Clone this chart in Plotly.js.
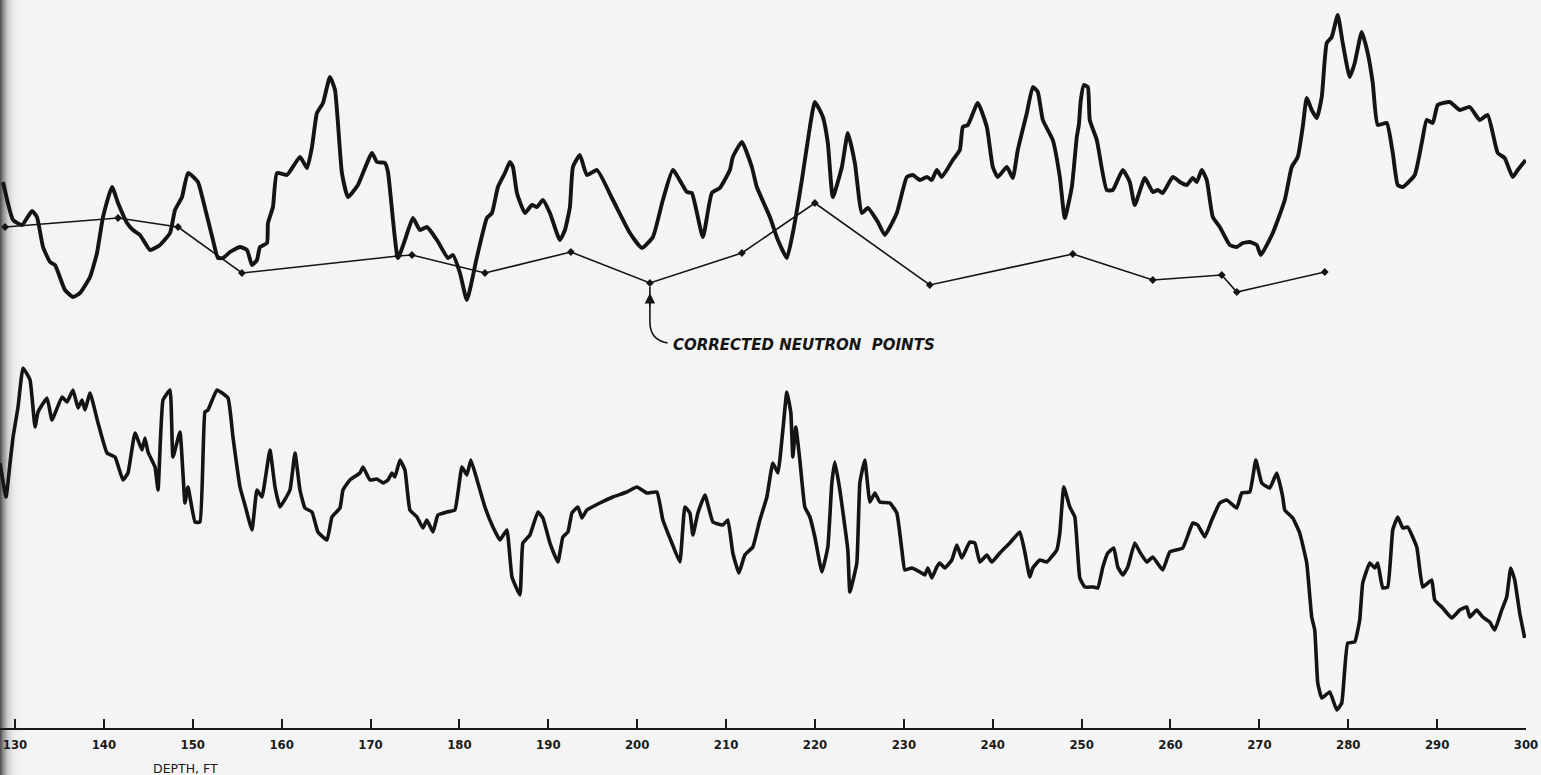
<!DOCTYPE html>
<html>
<head>
<meta charset="utf-8">
<script src="https://cdn.plot.ly/plotly-3.0.1.min.js"></script>
<style>
  html, body { margin: 0; padding: 0; }
  body {
    width: 1541px; height: 775px; overflow: hidden;
    background: linear-gradient(to right, #4a4a4a 0px, #8a8a8a 3px, #cfcfcf 8px, #ececec 14px, #f4f4f4 22px, #f5f5f5 100%);
  }
  #chart { width: 1541px; height: 775px; }
</style>
</head>
<body>
<div id="chart"></div>
<script>
// Depth (ft) axis ticks
const tickDepths = [130,140,150,160,170,180,190,200,210,220,230,240,250,260,270,280,290,300];
const tickLabels = ["130","140","150","160","170","180","190","200","210","220","230","240","250","260","270","280","290","300"];

// Upper log trace (arbitrary chart units)
const upperDepth = [128.65,129.78,130.79,131.91,132.47,133.15,133.94,134.50,135.62,136.52,137.31,138.44,139.22,139.90,140.91,141.59,142.60,143.27,144.06,145.19,146.31,147.44,148.00,148.79,149.46,150.58,151.15,152.27,152.83,153.40,154.18,155.31,156.10,156.66,157.22,157.56,158.35,158.46,159.02,159.47,160.60,162.06,162.85,163.41,163.97,164.65,165.43,166.00,166.78,167.46,168.58,170.16,170.72,171.62,171.96,173.08,173.87,174.77,175.56,176.34,177.47,178.71,179.27,180.06,180.84,181.97,183.09,183.66,184.33,185.12,185.68,186.02,186.47,187.37,188.16,188.72,189.39,190.18,191.30,191.87,192.43,192.77,193.55,194.34,195.47,197.27,199.18,200.53,201.77,202.89,204.02,205.59,206.15,207.39,208.40,209.30,210.43,210.76,211.78,212.90,213.46,214.93,215.83,216.84,217.51,218.53,219.43,219.99,220.89,221.45,222.01,223.03,223.70,224.49,225.28,225.95,227.08,227.86,229.21,230.34,231.01,231.80,232.59,233.15,233.71,234.27,235.51,236.30,236.64,237.20,238.32,239.34,240.01,240.57,241.59,242.26,242.82,243.84,244.51,245.07,245.64,246.76,247.55,248.11,248.90,249.46,249.69,249.91,250.25,250.70,250.92,251.71,252.83,253.51,254.63,255.42,255.98,257.11,258.01,258.57,259.13,260.26,261.05,261.83,262.51,262.96,263.52,264.08,264.76,265.55,266.67,267.46,268.13,268.92,269.71,270.16,271.51,272.86,273.64,274.32,274.88,275.33,275.89,276.46,277.02,277.58,278.14,278.82,279.38,280.17,280.73,281.52,282.19,282.76,283.32,284.33,285.01,285.57,286.13,287.48,288.27,288.83,289.51,290.07,291.42,292.54,293.67,294.79,295.69,296.82,297.60,298.50,299.07,299.97];
const upperReading = [546,508,503,517,511,481,466,463,438,431,435,451,475,511,541,525,505,498,493,478,483,495,518,531,555,546,528,488,470,470,476,481,478,463,468,481,485,505,521,555,553,571,560,581,615,625,651,638,555,531,543,575,566,565,556,470,488,510,498,501,488,470,473,455,428,471,510,515,541,555,566,561,535,515,523,521,528,515,488,498,521,561,573,553,558,528,495,480,491,528,558,536,535,491,535,540,558,571,586,561,541,511,488,470,495,548,601,626,611,585,531,561,595,565,515,520,506,493,515,551,553,548,551,548,558,551,568,578,601,603,625,601,561,551,561,550,578,615,641,636,608,588,551,510,541,591,603,628,643,641,608,588,538,538,558,546,523,550,536,538,535,551,546,543,550,546,558,548,511,501,483,481,485,486,483,473,495,528,561,571,601,630,618,610,631,685,691,713,685,651,665,696,675,645,603,605,575,543,541,553,585,608,605,623,626,618,621,608,613,575,570,551,558,568];

// Lower log trace (arbitrary chart units)
const lowerDepth = [128.31,128.99,129.44,129.78,130.34,130.90,131.69,132.25,132.59,133.60,134.16,135.29,135.85,136.52,137.09,137.54,137.87,138.44,139.34,140.35,141.25,142.15,142.71,143.50,144.29,144.62,144.96,145.75,146.09,146.65,147.44,147.77,148.56,149.12,149.46,150.25,150.81,151.37,151.71,152.72,153.96,154.52,155.31,155.87,156.66,157.22,157.78,158.68,159.25,159.81,160.93,161.50,162.06,162.62,163.41,164.08,165.10,165.66,166.56,166.90,167.68,168.81,169.15,169.93,170.72,171.40,171.96,172.41,172.74,173.31,173.87,174.43,175.22,175.89,176.34,177.02,177.58,178.59,179.49,180.28,180.84,181.29,182.08,182.87,183.77,184.56,185.34,185.91,186.81,187.14,187.93,188.83,189.39,190.18,191.08,191.64,192.21,192.66,193.33,193.78,194.34,195.80,197.27,198.84,199.97,201.09,202.22,202.89,203.90,204.80,205.37,205.93,206.27,206.83,207.62,208.52,209.64,210.20,210.76,211.44,212.11,213.01,213.80,214.59,215.26,215.83,216.39,216.84,217.29,217.51,217.85,218.30,218.86,219.43,219.99,220.78,221.45,221.90,222.24,222.80,223.70,223.93,224.71,225.05,225.61,226.18,226.74,227.30,228.43,229.21,229.78,230.11,230.90,231.80,232.36,232.70,233.15,233.71,234.05,234.61,235.40,235.96,236.52,237.42,237.99,238.55,239.34,239.90,240.80,241.92,243.05,243.61,244.17,244.51,245.30,246.09,247.21,247.55,248.00,248.67,249.24,249.80,250.36,251.26,251.82,252.39,252.95,253.62,254.07,254.63,255.20,255.98,256.55,257.33,258.01,259.13,259.92,261.38,262.51,263.07,263.86,264.65,265.55,266.33,267.46,268.02,268.92,269.60,270.27,271.17,271.96,272.63,272.86,273.76,274.54,275.33,275.89,276.23,276.57,277.02,277.92,278.71,279.27,279.94,280.73,281.29,281.63,282.42,282.98,283.32,283.88,284.44,285.01,285.57,286.13,286.69,287.71,288.38,289.39,289.73,290.63,291.64,292.54,293.33,293.67,294.45,295.13,295.92,296.48,297.27,297.83,298.28,298.73,299.29,299.85];
const lowerReading = [265,231,265,291,321,360,348,301,316,330,308,331,326,338,320,328,318,335,305,275,271,248,255,295,278,290,276,261,238,328,338,271,296,225,241,206,206,316,318,338,330,291,241,223,198,238,231,278,241,221,238,275,238,220,216,196,188,211,220,238,248,255,261,248,249,245,248,255,251,268,258,218,211,200,208,196,213,216,218,261,253,268,245,221,201,188,198,151,133,185,193,216,210,185,166,191,196,215,221,210,218,225,231,236,241,235,236,208,185,166,221,215,193,215,233,206,203,208,175,155,173,181,208,231,265,255,298,336,315,271,301,268,221,211,191,156,181,245,266,238,178,136,165,245,268,226,235,226,225,215,178,158,160,156,153,160,150,161,165,160,168,183,170,186,185,166,173,166,175,185,196,176,151,160,168,166,178,195,241,221,211,150,141,141,140,161,175,180,161,153,161,185,176,166,171,158,176,180,205,203,191,208,225,228,220,235,236,268,245,240,255,231,218,210,195,165,111,98,45,30,36,18,25,85,86,108,145,165,160,165,140,141,198,211,200,201,181,141,148,128,120,110,118,121,111,118,111,106,98,118,131,160,148,115,90];

// Corrected neutron points
const neutronDepth = [128.88,141.59,148.34,155.53,173.08,174.66,182.87,192.54,201.43,211.78,219.99,232.92,249.01,258.01,265.77,267.46,277.36];
const neutronReading = [501,510,501,455,472,473,455,476,445,475,525,443,474,448,453,436,456];

const ink = '#141414';
const traces = [
  { x: upperDepth, y: upperReading, type: 'scatter', mode: 'lines',
    line: { color: ink, width: 3.9, shape: 'spline', smoothing: 0.45 }, hoverinfo: 'skip' },
  { x: lowerDepth, y: lowerReading, type: 'scatter', mode: 'lines',
    line: { color: ink, width: 3.6, shape: 'spline', smoothing: 0.35 }, hoverinfo: 'skip' },
  { x: neutronDepth, y: neutronReading, type: 'scatter', mode: 'lines+markers',
    line: { color: ink, width: 1.6 },
    marker: { symbol: 'diamond', size: 6, color: ink }, hoverinfo: 'skip' }
];

// Arrow from label to the neutron point at index 8
const pi = 8;
const px0 = neutronDepth[pi];
const py0 = neutronReading[pi];

const layout = {
  width: 1541, height: 775,
  margin: { l: 0, r: 15, t: 0, b: 47 },
  paper_bgcolor: 'rgba(0,0,0,0)',
  plot_bgcolor: 'rgba(0,0,0,0)',
  showlegend: false,
  xaxis: {
    range: [128.31, 300],
    tickvals: tickDepths, ticktext: tickLabels,
    ticks: 'inside', ticklen: 9, tickwidth: 2, tickcolor: '#1a1a1a',
    showline: true, linewidth: 2, linecolor: '#1a1a1a',
    showgrid: false, zeroline: false,
    ticklabelstandoff: 3,
    tickfont: { family: 'DejaVu Sans Condensed, Liberation Sans Narrow, sans-serif', size: 13, color: '#1a1a1a', weight: 'bold' },
    fixedrange: true
  },
  yaxis: { range: [0, 728], visible: false, fixedrange: true },
  shapes: [
    { type: 'path', xref: 'x', yref: 'y',
      path: 'M ' + px0 + ',' + (py0 - 4) + ' L ' + px0 + ',' + (py0 - 39) +
            ' Q ' + px0 + ',' + (py0 - 57) + ' ' + (px0 + 2.0) + ',' + (py0 - 60),
      line: { color: ink, width: 1.6 } }
  ],
  annotations: [
    { x: px0, y: py0 - 10, xref: 'x', yref: 'y', ax: 0, ay: 14, axref: 'pixel', ayref: 'pixel',
      text: '', showarrow: true, arrowhead: 2, arrowsize: 1.3, arrowwidth: 1.6, arrowcolor: ink },
    { x: px0 + 2.4, y: py0 - 62, xref: 'x', yref: 'y', xanchor: 'left', yanchor: 'middle',
      text: 'CORRECTED NEUTRON  POINTS', showarrow: false,
      font: { family: 'DejaVu Sans, sans-serif', size: 15, color: ink, weight: 'bold', style: 'italic' } },
    { x: 145.3, y: 0, xref: 'x', yref: 'paper', xanchor: 'left', yanchor: 'middle', yshift: -40,
      text: 'DEPTH, FT', showarrow: false,
      font: { family: 'DejaVu Sans, sans-serif', size: 12.5, color: '#1a1a1a' } }
  ]
};

Plotly.newPlot('chart', traces, layout, { displayModeBar: false, staticPlot: true });
</script>
</body>
</html>
